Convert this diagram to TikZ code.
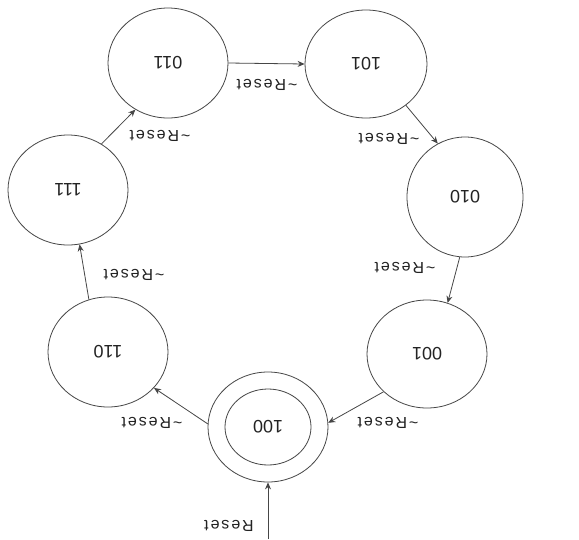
\documentclass[tikz,border=0pt]{standalone}
\usepackage{fontspec}
\newfontfamily\lsans{Liberation Sans}
\newfontfamily\lsanssp[LetterSpace=12]{Liberation Sans}
\usetikzlibrary{shapes.geometric,arrows.meta}
\definecolor{linegray}{RGB}{70,70,70}
\definecolor{txt}{RGB}{35,35,35}
\begin{document}
\begin{tikzpicture}[x=1pt,y=-1pt,
  st/.style={draw=linegray, ellipse, inner sep=0pt, line width=0.8pt},
  nm/.style={inner sep=0pt, text=txt, font=\lsans\fontsize{18}{20}\selectfont},
  lbl/.style={inner sep=0pt, text=txt, font=\lsanssp\fontsize{16}{18}\selectfont},
  tr/.style={draw=linegray, line width=0.8pt, -{Stealth[length=7pt,width=6pt]}}]
\useasboundingbox[fill=white] (0,0) rectangle (579,539);

% states
\node[st, minimum width=120pt, minimum height=110pt] (n011) at (168,63) {};
\node[st, minimum width=122pt, minimum height=108pt] (n101) at (366,64) {};
\node[st, minimum width=116pt, minimum height=120pt] (n010) at (465,197) {};
\node[st, minimum width=120pt, minimum height=110pt] (n111) at (68,190) {};
\node[st, minimum width=120pt, minimum height=110pt] (n110) at (108,352) {};
\node[st, minimum width=120pt, minimum height=108pt] (n001) at (427,354) {};
\node[st, minimum width=120pt, minimum height=110pt] (n100) at (268,427) {};
\node[st, minimum width=86pt, minimum height=76pt] (n100in) at (268,427) {};

% state names (printed upside down)
\node[nm] (t011) at (n011) {\rotatebox{180}{011}};
\node[nm] (t101) at (n101) {\rotatebox{180}{101}};
\node[nm] (t010) at (n010) {\rotatebox{180}{010}};
\node[nm] (t111) at (n111) {\rotatebox{180}{111}};
\node[nm] (t110) at (n110) {\rotatebox{180}{110}};
\node[nm] (t001) at (n001) {\rotatebox{180}{001}};
\node[nm] (t100) at (n100in) {\rotatebox{180}{100}};

% transitions
\coordinate (rs) at (268,539);
\draw[tr] (rs) -- (n100.south);
\draw[tr] (n100.177) -- (n110.-38);
\draw[tr] (n110.110) -- (n111.-78);
\draw[tr] (n111.54) -- (n011.235);
\draw[tr] (n011.east) -- (n101.west);
\draw[tr] (n101.-46) -- (n010.117);
\draw[tr] (n010.265) -- (n001.68);
\draw[tr] (n001.221) -- (n100.4);

% labels
\node[lbl] (lrs) at (229,526) {\rotatebox{180}{Reset}};
\node[lbl] (l1) at (152,423) {\rotatebox{180}{\string~Reset}};
\node[lbl] (l2) at (134,275) {\rotatebox{180}{\string~Reset}};
\node[lbl] (l3) at (160,136) {\rotatebox{180}{\string~Reset}};
\node[lbl] (l4) at (267,85) {\rotatebox{180}{\string~Reset}};
\node[lbl] (l5) at (389,139) {\rotatebox{180}{\string~Reset}};
\node[lbl] (l6) at (405,268) {\rotatebox{180}{\string~Reset}};
\node[lbl] (l7) at (388,423) {\rotatebox{180}{\string~Reset}};
\end{tikzpicture}
\end{document}
